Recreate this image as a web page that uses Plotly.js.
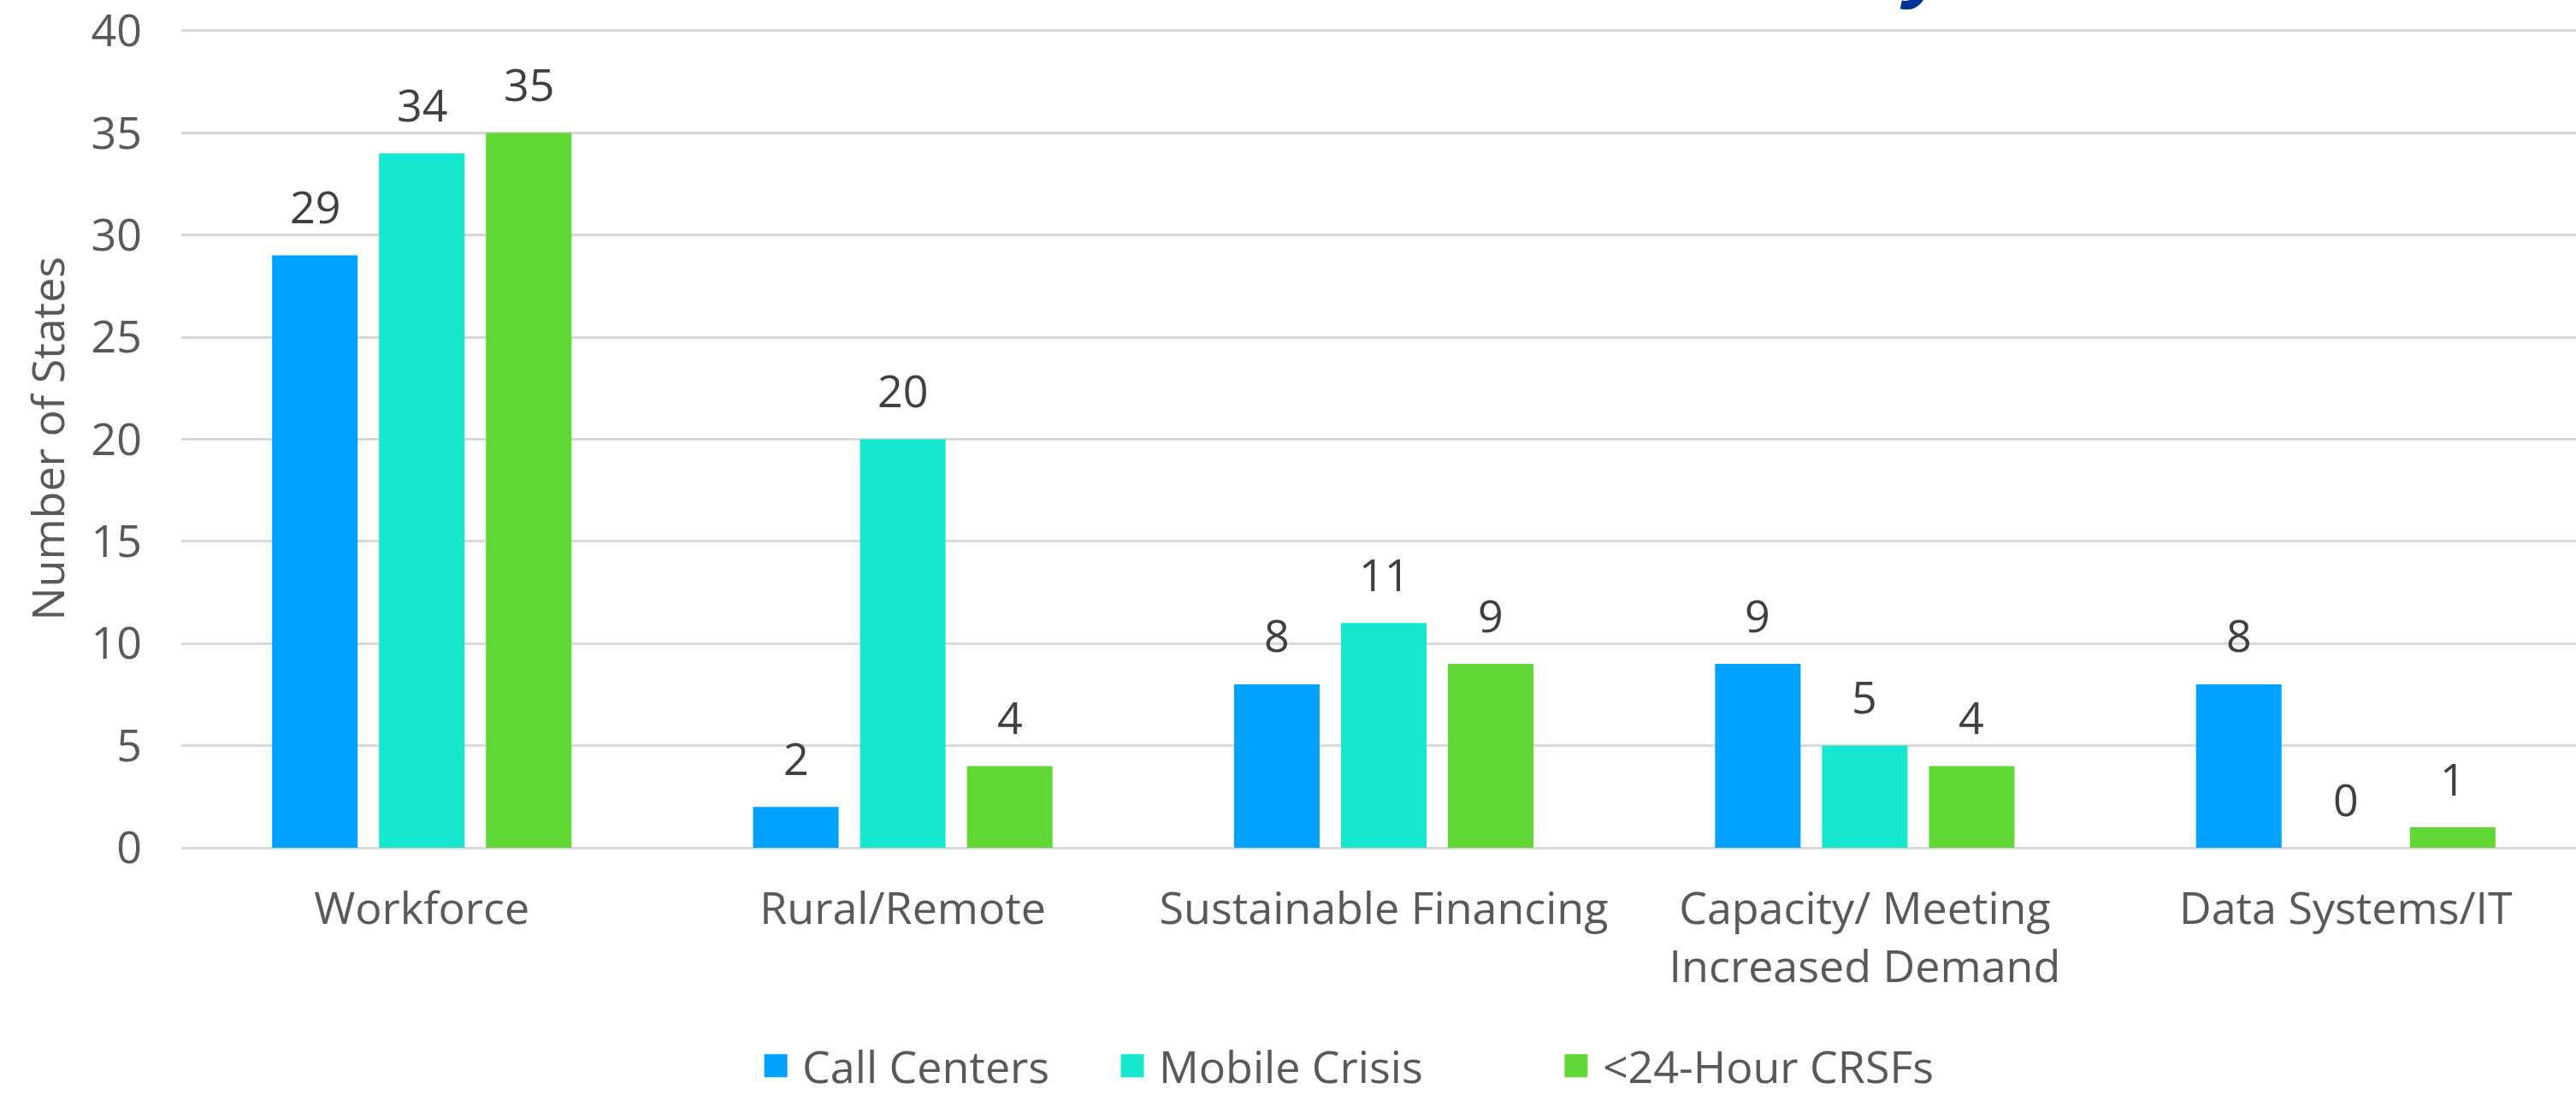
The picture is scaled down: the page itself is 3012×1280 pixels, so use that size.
<!DOCTYPE html>
<html>
<head>
<meta charset="utf-8">
<script src="https://cdn.plot.ly/plotly-3.0.1.min.js"></script>
<style>
  html, body { margin: 0; padding: 0; background: #ffffff; }
  #chart { width: 3012px; height: 1280px; }
  /* enlarge the legend swatches to the reference's square keys */
  #chart .legendpoints path { transform: translate(29px, 0px) scale(2.25); }
</style>
</head>
<body>
<div id="chart"></div>
<script>
// ---- data ----
const categories = ["Workforce", "Rural/Remote", "Sustainable Financing", "Capacity/ Meeting<br>Increased Demand", "Data Systems/IT"];
const seriesNames = ["Call Centers", "Mobile Crisis", "<24-Hour CRSFs"];
const callCenters = [29, 2, 8, 9, 8];
const mobileCrisis = [34, 20, 11, 5, 0];
const crsfs = [35, 4, 9, 4, 1];
const yTicks = [0, 5, 10, 15, 20, 25, 30, 35, 40];

// ---- style ----
const colors = ["#00A2FF", "#16E7CF", "#61D836"];
const FONT = "Open Sans, Noto Sans, sans-serif";
const BARGAP = 0.333;
const BARGROUPGAP = 0.2;
const seriesValues = [callCenters, mobileCrisis, crsfs];
const legendIds = ["legend", "legend2", "legend3"];
const legendX = [0.2379, 0.3868, 0.5721];

const traces = seriesValues.map((vals, i) => ({
  type: "bar",
  x: categories,
  y: vals,
  name: seriesNames[i],
  legend: legendIds[i],
  marker: { color: colors[i], line: { width: 0 } },
  hoverinfo: "skip"
}));

// data labels above each bar, positioned from the same data
const slot = (1 - BARGAP) / seriesValues.length;
const annotations = [];
seriesValues.forEach((vals, i) => {
  vals.forEach((v, j) => {
    annotations.push({
      x: j + (i - (seriesValues.length - 1) / 2) * slot,
      y: v,
      xref: "x", yref: "y",
      text: String(v),
      showarrow: false,
      xanchor: "center", yanchor: "middle",
      yshift: 58,
      font: { family: FONT, size: 52, color: "#404040" }
    });
  });
});
// y axis title
annotations.push({
  xref: "paper", yref: "paper", x: -0.0564, y: 0.5,
  text: "Number of States", textangle: -90, showarrow: false,
  xanchor: "center", yanchor: "middle",
  font: { family: FONT, size: 52, color: "#595959" }
});
// cropped title fragment at the very top
annotations.push({
  xref: "paper", yref: "paper", x: 0.729, y: 1.022,
  text: "<b><i>y</i></b>", showarrow: false,
  xanchor: "center", yanchor: "bottom",
  font: { family: "Liberation Sans, Arial, sans-serif", size: 100, color: "#003399" }
});

const legendBase = (x) => ({
  orientation: "h", x: x, xanchor: "left", y: -0.2665, yanchor: "middle",
  itemwidth: 50,
  font: { family: FONT, size: 52, color: "#595959" },
  bgcolor: "rgba(0,0,0,0)", borderwidth: 0
});

const layout = {
  width: 3012, height: 1280,
  margin: { l: 212, r: 0, t: 34, b: 289, autoexpand: false },
  paper_bgcolor: "#ffffff", plot_bgcolor: "#ffffff",
  barmode: "group", bargap: BARGAP, bargroupgap: BARGROUPGAP,
  showlegend: true,
  legend: legendBase(legendX[0]),
  legend2: legendBase(legendX[1]),
  legend3: legendBase(legendX[2]),
  xaxis: {
    type: "category",
    range: [-0.5, -0.5 + 2800 / 562.4],
    showgrid: false, zeroline: false, showline: false,
    ticks: "", ticklabelstandoff: 36,
    tickfont: { family: FONT, size: 52, color: "#595959" },
    fixedrange: true
  },
  yaxis: {
    range: [0, 40.08],
    tickvals: yTicks, ticktext: yTicks.map(String),
    showgrid: true, gridcolor: "#d9d9d9", gridwidth: 3,
    zeroline: true, zerolinecolor: "#d9d9d9", zerolinewidth: 3,
    showline: false, ticks: "", ticklabelstandoff: 45,
    ticklabeloverflow: "allow",
    tickfont: { family: FONT, size: 52, color: "#595959" },
    fixedrange: true
  },
  annotations: annotations
};

Plotly.newPlot("chart", traces, layout, { displayModeBar: false, staticPlot: true });
</script>
</body>
</html>
